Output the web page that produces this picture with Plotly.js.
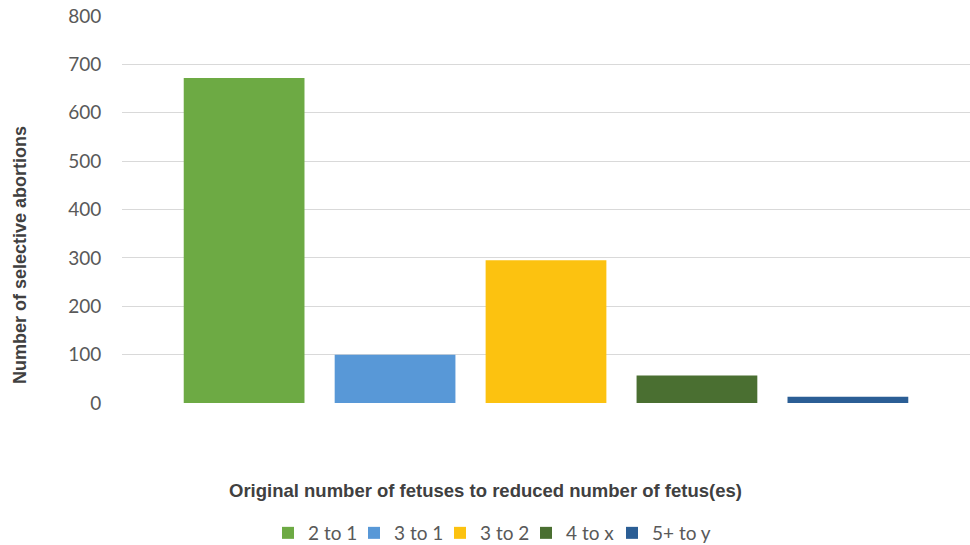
<!DOCTYPE html>
<html>
<head>
<meta charset="utf-8">
<script src="https://cdn.plot.ly/plotly-3.0.1.min.js"></script>
<style>html,body{margin:0;padding:0;background:#fff;}#chart{width:970px;height:545px;}</style>
</head>
<body>
<div id="chart"></div>
<script>
const seriesNames = ["2 to 1", "3 to 1", "3 to 2", "4 to x", "5+ to y"];
const seriesValues = [672, 100, 295, 57, 13];
const seriesColors = ["#6DAA44", "#5898D7", "#FCC210", "#4A6F31", "#2B5E95"];
const category = [""];
const yTicks = [0, 100, 200, 300, 400, 500, 600, 700, 800];
const xTitle = "Original number of fetuses to reduced number of fetus(es)";
const yTitle = "Number of selective abortions";

const traces = seriesNames.map((name, i) => ({
  type: "bar",
  name: name,
  x: category,
  y: [seriesValues[i]],
  marker: {color: seriesColors[i], line: {width: 0}},
  hoverinfo: "name+y"
}));
// legend-only spacer entry (no visible symbol/text) so the last legend label is not clipped
traces.push({
  type: "scatter", mode: "markers", name: " ",
  x: category, y: [0], visible: "legendonly",
  marker: {color: "rgba(0,0,0,0)", size: 1}
});

const titleFont = {family: "'Liberation Sans', Arial, sans-serif", color: "#404040", weight: "bold"};

const layout = {
  width: 970, height: 545,
  margin: {l: 122, r: 0, t: 16, b: 142},
  paper_bgcolor: "#ffffff",
  plot_bgcolor: "#ffffff",
  barmode: "group",
  bargap: 0.11,
  bargroupgap: 0.2,
  font: {family: "Lato, 'Open Sans', sans-serif", color: "#595959"},
  xaxis: {
    showticklabels: false,
    showgrid: false,
    zeroline: false,
    showline: false,
    ticks: ""
  },
  yaxis: {
    range: [0, 800],
    tickvals: yTicks,
    ticktext: yTicks.map(String),
    showgrid: true,
    gridcolor: "#D9D9D9",
    gridwidth: 1,
    zeroline: false,
    showline: false,
    ticks: "outside",
    ticklen: 16,
    tickcolor: "rgba(0,0,0,0)",
    tickfont: {size: 19, color: "#595959"}
  },
  annotations: [
    {text: xTitle, xref: "paper", yref: "paper",
     x: (485 - 122) / 848, y: -(490 - 403) / 387, xanchor: "center", yanchor: "middle",
     showarrow: false, font: Object.assign({size: 18.5}, titleFont)},
    {text: yTitle, xref: "paper", yref: "paper", textangle: -90,
     x: -(122 - 20) / 848, y: (403 - 255) / 387, xanchor: "center", yanchor: "middle",
     showarrow: false, font: Object.assign({size: 18}, titleFont)}
  ],
  legend: {
    orientation: "h",
    xref: "container", yref: "container",
    x: 526 / 970, xanchor: "center",
    y: 12 / 545, yanchor: "middle",
    font: {size: 19, color: "#595959"},
    itemwidth: 30,
    entrywidth: 41,
    entrywidthmode: "pixels",
    itemclick: false,
    traceorder: "normal"
  },
  showlegend: true
};

Plotly.newPlot("chart", traces, layout, {displayModeBar: false, staticPlot: true});
</script>
</body>
</html>
